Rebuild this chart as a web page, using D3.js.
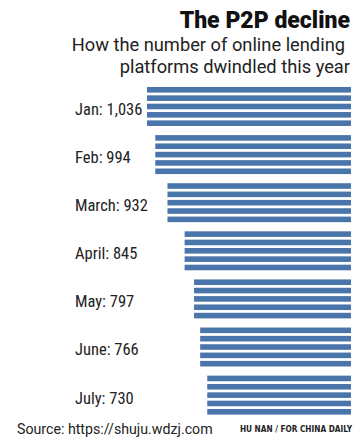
<!DOCTYPE html>
<html>
<head>
<meta charset="utf-8">
<script src="https://cdn.jsdelivr.net/npm/d3@7"></script>
<style>
  body { margin: 0; background: #fff; }
</style>
</head>
<body>
<div id="chart"></div>
<script>
const width = 363, height = 443;

// data
const months = ["Jan", "Feb", "March", "April", "May", "June", "July"];
const platforms = [1036, 994, 932, 845, 797, 766, 730];
const stripes = [0, 1, 2, 3, 4];

const data = months.map(function(m, i) { return {month: m, value: platforms[i]}; });

const svg = d3.select("#chart")
    .append("svg")
    .attr("width", width)
    .attr("height", height);

// bars grow leftwards from the right edge
const barRight = 351;
let x = d3.scaleLinear()
    .domain([0, 1036])
    .range([0, 204]);

// 7 blocks, step ~48, block height ~39
let y = d3.scaleBand()
    .domain(months)
    .range([87, 87 + 6 * 48.1 + 39])
    .paddingInner(0.19)
    .paddingOuter(0);

let yStripe = d3.scaleBand()
    .domain(stripes)
    .range([0, y.bandwidth()])
    .paddingInner(0.33);

let groups = svg.selectAll("g.month").data(data)
    .enter()
    .append("g")
    .attr("class", "month")
    .attr("transform", function(d) { return `translate(0,${y(d.month)})`; });

groups.selectAll("rect")
    .data(function(d) { return stripes.map(function(s) { return {s: s, value: d.value}; }); })
    .enter()
    .append("rect")
    .attr("x", function(d) { return barRight - x(d.value); })
    .attr("y", function(d) { return yStripe(d.s); })
    .attr("width", function(d) { return x(d.value); })
    .attr("height", yStripe.bandwidth())
    .attr("fill", "#4a75aa");

groups.append("text")
    .attr("x", 75)
    .attr("y", y.bandwidth() / 2 + 8.5)
    .style("font-family", "'Liberation Sans Narrow', 'Roboto Condensed', 'DejaVu Sans Condensed', sans-serif")
    .style("font-size", "16.5px")
    .attr("fill", "#222")
    .text(function(d) { return `${d.month}: ${d3.format(",")(d.value)}`; });

// Title
svg.append("text")
    .attr("x", 350)
    .attr("y", 28)
    .style("text-anchor", "end")
    .style("font-family", "Roboto, 'Open Sans', sans-serif")
    .style("font-weight", 900)
    .style("font-size", "23px")
    .attr("fill", "#111")
    .text("The P2P decline");

svg.append("text")
    .attr("x", 345)
    .attr("y", 51)
    .style("text-anchor", "end")
    .style("font-family", "Roboto, 'Open Sans', sans-serif")
    .style("font-size", "18.3px")
    .attr("fill", "#222")
    .text("How the number of online lending");

svg.append("text")
    .attr("x", 350)
    .attr("y", 73)
    .style("text-anchor", "end")
    .style("font-family", "Roboto, 'Open Sans', sans-serif")
    .style("font-size", "18.3px")
    .attr("fill", "#222")
    .text("platforms dwindled this year");

// Source / credit
svg.append("text")
    .attr("x", 17)
    .attr("y", 434)
    .style("font-family", "Roboto, 'Open Sans', sans-serif")
    .style("font-size", "14.2px")
    .attr("fill", "#222")
    .text("Source: https://shuju.wdzj.com");

svg.append("text")
    .attr("x", 352)
    .attr("y", 432)
    .style("text-anchor", "end")
    .style("font-family", "'Liberation Sans Narrow', 'DejaVu Sans Condensed', sans-serif")
    .style("font-weight", "bold")
    .style("font-size", "8.2px")
    .attr("fill", "#222")
    .text("HU NAN / FOR CHINA DAILY");
</script>
</body>
</html>
